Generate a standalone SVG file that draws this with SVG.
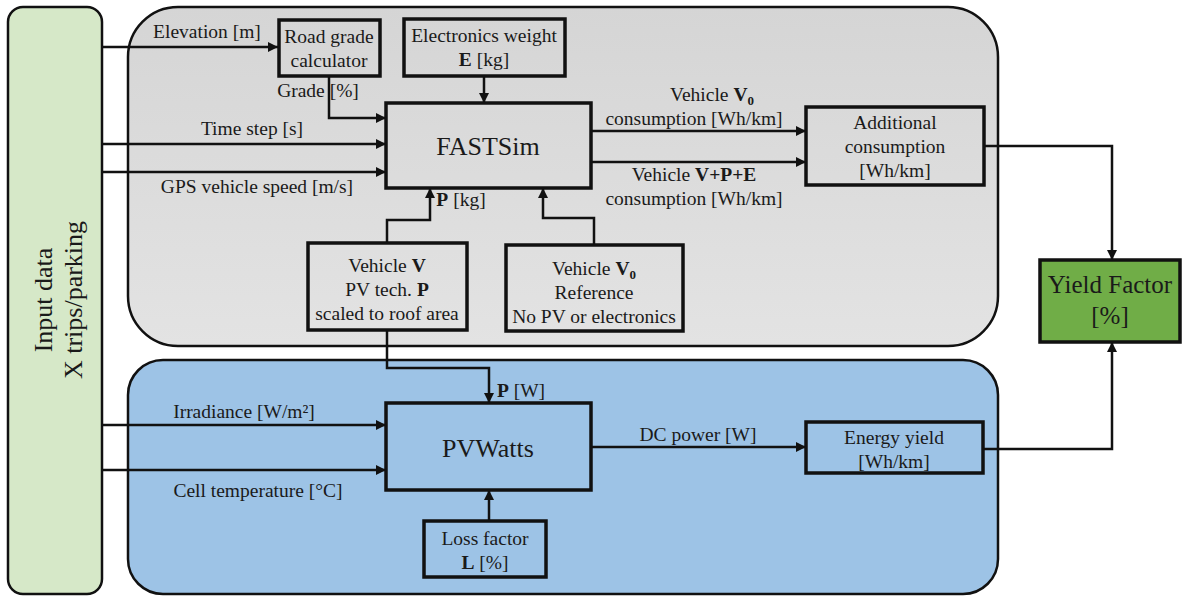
<svg xmlns="http://www.w3.org/2000/svg" width="1182" height="597" viewBox="0 0 1182 597">
<defs>
<linearGradient id="gray" x1="0" y1="0" x2="0" y2="1"><stop offset="0" stop-color="#d5d5d5"/><stop offset="1" stop-color="#e3e3e3"/></linearGradient>
<marker id="ah" viewBox="0 0 10 10" refX="10" refY="5" markerWidth="4" markerHeight="4" markerUnits="strokeWidth" orient="auto"><path d="M0,0 L10,5 L0,10 z" fill="#111"/></marker>
<style>
.box{stroke:#111;stroke-width:3.5;fill:none}
.panel{stroke:#111;stroke-width:2.5}
.con{stroke:#111;stroke-width:2.5;fill:none}
.arr{marker-end:url(#ah)}
</style>
</defs>
<rect width="1182" height="597" fill="#fff"/>
<g id="gray-panel"><rect class="panel" x="128" y="7" width="870" height="339" rx="50" fill="url(#gray)"/></g>
<g id="blue-panel"><rect class="panel" x="128" y="360" width="870" height="234" rx="35" fill="#9dc3e6"/></g>
<g id="input-data">
<rect class="panel" x="8" y="7" width="94" height="587" rx="15" fill="#d6e8c8"/>
<text font-family="Liberation Serif" font-size="26" text-anchor="middle" fill="#1a1a1a" transform="translate(52,300) rotate(-90)">Input data</text>
<text font-family="Liberation Serif" font-size="26" text-anchor="middle" fill="#1a1a1a" transform="translate(82,300) rotate(-90)">X trips/parking</text>
</g>
<g id="connectors">
<path class="con arr" d="M102,47 H278"/>
<path class="con arr" d="M329,76 V118 H386"/>
<path class="con arr" d="M102,144 H386"/>
<path class="con arr" d="M102,172 H386"/>
<path class="con arr" d="M484,76 V103"/>
<path class="con arr" d="M591,131 H806"/>
<path class="con arr" d="M591,162 H806"/>
<path class="con arr" d="M387,243 V220 H430 V188"/>
<path class="con arr" d="M594,245 V218 H543 V188"/>
<path class="con arr" d="M984,146 H1112 V260"/>
<path class="con arr" d="M387,330 V368 H489 V403"/>
<path class="con arr" d="M102,425 H386"/>
<path class="con arr" d="M102,470 H386"/>
<path class="con arr" d="M489,521 V490"/>
<path class="con arr" d="M591,447 H806"/>
<path class="con arr" d="M983,449 H1112 V342"/>
<g font-family="Liberation Serif" font-size="19.5" text-anchor="middle" fill="#1a1a1a">
<text font-family="Liberation Serif" font-size="19.5" x="207" y="38">Elevation [m]</text>
<text font-family="Liberation Serif" font-size="19.5" x="318" y="97">Grade [%]</text>
<text font-family="Liberation Serif" font-size="19.5" x="252" y="135">Time step [s]</text>
<text font-family="Liberation Serif" font-size="19.5" x="257" y="193">GPS vehicle speed [m/s]</text>
<text font-family="Liberation Serif" font-size="19.5" x="712" y="101">Vehicle <tspan font-weight="bold">V</tspan><tspan font-weight="bold" font-size="13" dy="4">0</tspan></text>
<text font-family="Liberation Serif" font-size="19.5" x="694" y="125">consumption [Wh/km]</text>
<text font-family="Liberation Serif" font-size="19.5" x="694" y="181">Vehicle <tspan font-weight="bold">V+P+E</tspan></text>
<text font-family="Liberation Serif" font-size="19.5" x="694" y="205">consumption [Wh/km]</text>
<text font-family="Liberation Serif" font-size="19.5" x="461" y="206"><tspan font-weight="bold">P</tspan> [kg]</text>
<text font-family="Liberation Serif" font-size="19.5" x="521" y="397"><tspan font-weight="bold">P</tspan> [W]</text>
<text font-family="Liberation Serif" font-size="19.5" x="244" y="418">Irradiance [W/m²]</text>
<text font-family="Liberation Serif" font-size="19.5" x="258" y="497">Cell temperature [°C]</text>
<text font-family="Liberation Serif" font-size="19.5" x="698" y="441">DC power [W]</text>
</g>
</g>
<g id="road-grade" font-family="Liberation Serif" font-size="19.5" text-anchor="middle" fill="#1a1a1a"><rect class="box" x="279" y="20" width="101" height="56"/><text font-family="Liberation Serif" x="329" y="43">Road grade</text><text font-family="Liberation Serif" x="329" y="67">calculator</text></g>
<g id="electronics" font-family="Liberation Serif" font-size="19.5" text-anchor="middle" fill="#1a1a1a"><rect class="box" x="404" y="19" width="161" height="57"/><text font-family="Liberation Serif" x="484" y="42">Electronics weight</text><text font-family="Liberation Serif" x="484" y="66"><tspan font-weight="bold">E</tspan> [kg]</text></g>
<g id="fastsim" font-family="Liberation Serif" font-size="26" text-anchor="middle" fill="#1a1a1a"><rect class="box" x="386" y="103" width="205" height="85"/><text font-family="Liberation Serif" x="488" y="155">FASTSim</text></g>
<g id="additional" font-family="Liberation Serif" font-size="19.5" text-anchor="middle" fill="#1a1a1a"><rect class="box" x="806" y="107" width="178" height="78"/><text font-family="Liberation Serif" x="895" y="129">Additional</text><text font-family="Liberation Serif" x="895" y="153">consumption</text><text font-family="Liberation Serif" x="895" y="177">[Wh/km]</text></g>
<g id="vehicle-v" font-family="Liberation Serif" font-size="19.5" text-anchor="middle" fill="#1a1a1a"><rect class="box" x="308" y="243" width="159" height="87"/><text font-family="Liberation Serif" x="387" y="272">Vehicle <tspan font-weight="bold">V</tspan></text><text font-family="Liberation Serif" x="387" y="296">PV tech. <tspan font-weight="bold">P</tspan></text><text font-family="Liberation Serif" x="387" y="320">scaled to roof area</text></g>
<g id="vehicle-v0" font-family="Liberation Serif" font-size="19.5" text-anchor="middle" fill="#1a1a1a"><rect class="box" x="506" y="245" width="177" height="86"/><text font-family="Liberation Serif" x="594" y="275">Vehicle <tspan font-weight="bold">V</tspan><tspan font-weight="bold" font-size="13" dy="4">0</tspan></text><text font-family="Liberation Serif" x="594" y="299">Reference</text><text font-family="Liberation Serif" x="594" y="323">No PV or electronics</text></g>
<g id="yield-factor" font-family="Liberation Serif" font-size="25" text-anchor="middle" fill="#1a1a1a"><rect class="box" x="1040" y="260" width="140" height="82" style="fill:#70ad47"/><text font-family="Liberation Serif" x="1110" y="293">Yield Factor</text><text font-family="Liberation Serif" x="1110" y="324">[%]</text></g>
<g id="pvwatts" font-family="Liberation Serif" font-size="26" text-anchor="middle" fill="#1a1a1a"><rect class="box" x="386" y="403" width="205" height="87"/><text font-family="Liberation Serif" x="488" y="457">PVWatts</text></g>
<g id="energy-yield" font-family="Liberation Serif" font-size="19.5" text-anchor="middle" fill="#1a1a1a"><rect class="box" x="806" y="422" width="177" height="51"/><text font-family="Liberation Serif" x="894" y="444">Energy yield</text><text font-family="Liberation Serif" x="894" y="468">[Wh/km]</text></g>
<g id="loss-factor" font-family="Liberation Serif" font-size="19.5" text-anchor="middle" fill="#1a1a1a"><rect class="box" x="424" y="521" width="122" height="56"/><text font-family="Liberation Serif" x="485" y="545">Loss factor</text><text font-family="Liberation Serif" x="485" y="569"><tspan font-weight="bold">L</tspan> [%]</text></g>
</svg>
